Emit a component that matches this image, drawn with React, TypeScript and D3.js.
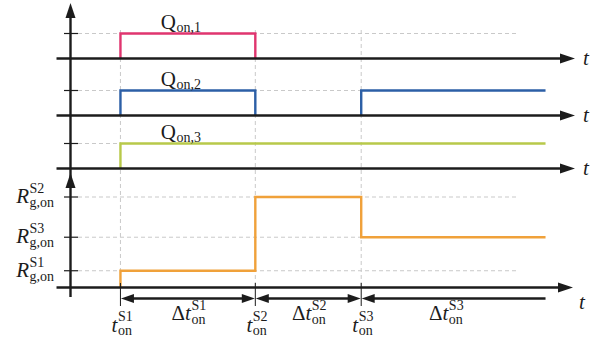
import React from "react";
import * as d3 from "d3";

// ---- data ----
const eventTimes = [1, 3.7, 5.82]; // t_on^S1, t_on^S2, t_on^S3
const eventNames = ["S1", "S2", "S3"];
const tEnd = 9.51;
const gridEnd = 8.96;
const axisStart = -0.28;
const axisEnd = 10.1;

const q1Pulses: [number, number][][] = [[[1, 0], [1, 1], [3.7, 1], [3.7, 0]]];
const q2Pulses: [number, number][][] = [[[1, 0], [1, 1], [3.7, 1], [3.7, 0]], [[5.82, 0], [5.82, 1], [9.51, 1]]];
const q3Pulses: [number, number][][] = [[[1, 0], [1, 1], [9.51, 1]]];
const qLabels = ["on,1", "on,2", "on,3"];
const qColors = ["#e0356f", "#2c5fa6", "#b8c94a"];

const rLevelNames = ["S1", "S3", "S2"];
const rLevelValues = [1, 3, 5.4];
const rPoints: [number, number][] = [[1, 0], [1, 1], [3.7, 1], [3.7, 5.4], [5.82, 5.4], [5.82, 3], [9.51, 3]];
const rColor = "#f0a13a";

// ---- layout ----
const W = 598, H = 340;
const axisX = 70.5;
const panelBases = [58.5, 115.5, 168.5];
const panelHeight = 25;
const rBase = 287.5;
const rTop = 197;
const dimY = 298.5;
const FONT = "'Liberation Serif', 'DejaVu Serif', 'Times New Roman', serif";
const INK = "#1c1c1c";
const GRID = "#c9c9c9";

const x = d3.scaleLinear().domain([0, axisEnd]).range([axisX, 575]);
const yR = d3.scaleLinear().domain([0, 5.4]).range([rBase, rTop]);
const yQ = (i: number) => d3.scaleLinear().domain([0, 1]).range([panelBases[i], panelBases[i] - panelHeight]);

function arrowHead(tipX: number, tipY: number, dir: "up" | "right" | "left", len = 15, hw = 5) {
  if (dir === "up") return `M${tipX},${tipY} L${tipX - hw},${tipY + len} L${tipX + hw},${tipY + len} Z`;
  if (dir === "right") return `M${tipX},${tipY} L${tipX - len},${tipY - hw} L${tipX - len},${tipY + hw} Z`;
  return `M${tipX},${tipY} L${tipX + len},${tipY - hw} L${tipX + len},${tipY + hw} Z`;
}

function Script({ x0, y, main, prefix, sup, sub, italic = true, size = 21, ssize = 14, supDy = -9, subDy = 3 }: any) {
  const st = { fontFamily: FONT };
  return (
    <g fill={INK}>
      <text x={x0} y={y} textAnchor="end" fontSize={size} style={st}>
        {prefix && <tspan fontStyle="normal">{prefix}</tspan>}
        <tspan fontStyle={italic ? "italic" : "normal"}>{main}</tspan>
      </text>
      {sup && <text x={x0 + 0.5} y={y + supDy} fontSize={ssize} style={st}>{sup}</text>}
      {sub && <text x={x0 + 0.5} y={y + subDy} fontSize={ssize} style={st}>{sub}</text>}
    </g>
  );
}

export default function App() {
  const qSeries = [q1Pulses, q2Pulses, q3Pulses];
  const mid12 = (x(eventTimes[0]) + x(eventTimes[1])) / 2;
  const dimSegs = [
    { a: eventTimes[0], b: eventTimes[1], left: true, right: true },
    { a: eventTimes[1], b: eventTimes[2], left: true, right: true },
    { a: eventTimes[2], b: tEnd, left: true, right: false },
  ];
  const dtCenters = [
    (x(eventTimes[0]) + x(eventTimes[1])) / 2,
    (x(eventTimes[1]) + x(eventTimes[2])) / 2,
    (x(eventTimes[2]) + x(tEnd)) / 2 - 8,
  ];
  const tStyle = { fontFamily: FONT };
  return (
    <svg width={W} height={H} style={{ position: "absolute", left: 0, top: 0, background: "#fff" }}>
      {/* horizontal dashed grid */}
      {qSeries.map((_, i) => (
        <line key={"hq" + i} x1={78} x2={x(gridEnd)} y1={yQ(i)(1)} y2={yQ(i)(1)} stroke={GRID} strokeWidth={1} strokeDasharray="4,3" />
      ))}
      {rLevelValues.map((v, i) => (
        <line key={"hr" + i} x1={78} x2={x(gridEnd)} y1={yR(v)} y2={yR(v)} stroke={GRID} strokeWidth={1} strokeDasharray="4,3" />
      ))}
      {/* vertical dashed */}
      {eventTimes.map((t, i) => (
        <line key={"v" + i} x1={x(t)} x2={x(t)} y1={30} y2={rBase} stroke={GRID} strokeWidth={1} strokeDasharray="4,3" />
      ))}
      {/* signals */}
      {qSeries.map((pulses, i) => {
        const yy = yQ(i);
        const line = d3.line<[number, number]>().x((d) => x(d[0])).y((d) => yy(d[1]));
        return pulses.map((pts, j) => (
          <path key={"q" + i + "-" + j} d={line(pts) || ""} fill="none" stroke={qColors[i]} strokeWidth={2.4} />
        ));
      })}
      <path
        d={d3.line<[number, number]>().x((d) => x(d[0])).y((d) => yR(d[1]))(rPoints) || ""}
        fill="none"
        stroke={rColor}
        strokeWidth={2.4}
      />
      {/* horizontal axes */}
      {panelBases.map((b, i) => (
        <g key={"ax" + i}>
          <line x1={x(axisStart)} x2={x(axisEnd) - 8} y1={b} y2={b} stroke={INK} strokeWidth={2.4} />
          <path d={arrowHead(x(axisEnd), b, "right")} fill={INK} />
          <text x={583} y={b + 6} fontStyle="italic" fontSize={21} fill={INK} style={tStyle}>t</text>
        </g>
      ))}
      <line x1={x(axisStart)} x2={573 - 8} y1={rBase} y2={rBase} stroke={INK} strokeWidth={2.4} />
      <path d={arrowHead(573, rBase, "right")} fill={INK} />
      <text x={579} y={309} fontStyle="italic" fontSize={21} fill={INK} style={tStyle}>t</text>
      {/* vertical axis */}
      <line x1={axisX} x2={axisX} y1={297} y2={10} stroke={INK} strokeWidth={2.4} />
      <path d={arrowHead(axisX, 3, "up")} fill={INK} />
      <path d={arrowHead(axisX, 173, "up")} fill={INK} />
      {/* y ticks */}
      {qSeries.map((_, i) => (
        <line key={"tq" + i} x1={64} x2={78} y1={yQ(i)(1)} y2={yQ(i)(1)} stroke={INK} strokeWidth={1.2} />
      ))}
      {rLevelValues.map((v, i) => (
        <line key={"tr" + i} x1={64} x2={78} y1={yR(v)} y2={yR(v)} stroke={INK} strokeWidth={1.2} />
      ))}
      {/* Q labels */}
      {qLabels.map((lab, i) => (
        <Script key={"ql" + i} x0={mid12 - 12} y={yQ(i)(1) - 5} main="Q" sub={lab} italic={false} subDy={3} />
      ))}
      {/* R labels */}
      {rLevelValues.map((v, i) => (
        <Script key={"rl" + i} x0={29} y={yR(v) + 6} main="R" sup={rLevelNames[i]} sub="g,on" supDy={-10} subDy={4} />
      ))}
      {/* dimension ticks */}
      {eventTimes.map((t, i) => (
        <line key={"dt" + i} x1={x(t)} x2={x(t)} y1={283} y2={306} stroke={INK} strokeWidth={1} />
      ))}
      {dimSegs.map((s, i) => {
        const a = x(s.a), b = x(s.b);
        return (
          <g key={"ds" + i}>
            <line x1={a + (s.left ? 8 : 0)} x2={b - (s.right ? 8 : 0)} y1={dimY} y2={dimY} stroke={INK} strokeWidth={2.4} />
            {s.left && <path d={arrowHead(a + 0.5, dimY, "left", 13, 4.5)} fill={INK} />}
            {s.right && <path d={arrowHead(b - 0.5, dimY, "right", 13, 4.5)} fill={INK} />}
          </g>
        );
      })}
      {/* t_on labels */}
      {eventTimes.map((t, i) => (
        <Script key={"tl" + i} x0={x(t) - 3} y={332} main="t" sup={eventNames[i]} sub="on" supDy={-11} subDy={3} />
      ))}
      {dtCenters.map((c, i) => (
        <Script key={"dl" + i} x0={c + 3} y={320} prefix={"Δ"} main="t" sup={eventNames[i]} sub="on" supDy={-10} subDy={4} />
      ))}
    </svg>
  );
}
